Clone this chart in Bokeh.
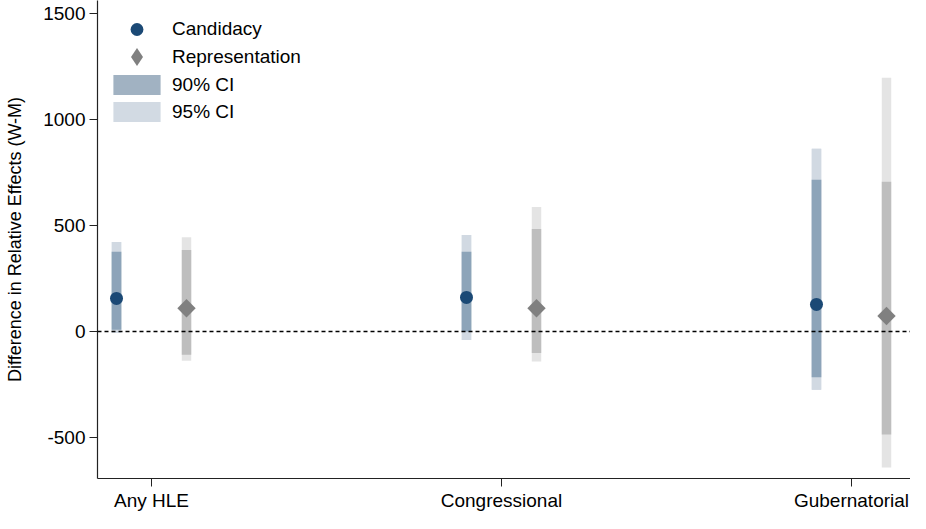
import numpy as np
from bokeh.plotting import figure
from bokeh.models import Span, FixedTicker, Legend, LegendItem, Range1d
from bokeh.embed import file_html
from bokeh.resources import INLINE

# ---- data ----
categories = ["Any HLE", "Congressional", "Gubernatorial"]
y_ticks = [-500, 0, 500, 1000, 1500]

cand_est = [156, 161, 128]
cand_lo90 = [9, 0, -216]
cand_hi90 = [376, 376, 716]
cand_lo95 = [-6, -40, -274]
cand_hi95 = [422, 455, 862]

rep_est = [110, 110, 73]
rep_lo90 = [-110, -101, -485]
rep_hi90 = [385, 483, 706]
rep_lo95 = [-138, -141, -641]
rep_hi95 = [445, 587, 1197]

# ---- layout ----
x_pos = np.arange(1, len(categories) + 1)
offset = 0.1
cand_x = x_pos - offset
rep_x = x_pos + offset
bar_w = 0.027
FONT = "Liberation Sans"
FB = 477  # expected frame bottom (px)

p = figure(width=910, height=513, output_backend="svg", toolbar_location=None,
           x_range=Range1d(0.8457, 3.1686), y_range=Range1d(-693, 1561),
           min_border_left=97, min_border_right=0, min_border_top=0,
           min_border_bottom=28)
p.outline_line_color = None
p.xgrid.visible = False
p.ygrid.visible = False

# legend-key copies (drawn first, hidden under the real bars)
k95 = p.vbar(x=cand_x, bottom=cand_lo95, top=cand_hi95, width=bar_w,
             fill_color="#d2dae3", line_color=None)
k90 = p.vbar(x=cand_x, bottom=cand_lo90, top=cand_hi90, width=bar_w,
             fill_color="#a1b2c2", line_color=None)

c95 = p.vbar(x=cand_x, bottom=cand_lo95, top=cand_hi95, width=bar_w,
             fill_color="#d1d9e2", line_color=None)
r95 = p.vbar(x=rep_x, bottom=rep_lo95, top=rep_hi95, width=bar_w,
             fill_color="#e4e4e4", line_color=None)
c90 = p.vbar(x=cand_x, bottom=cand_lo90, top=cand_hi90, width=bar_w,
             fill_color="#8da4b9", line_color=None)
r90 = p.vbar(x=rep_x, bottom=rep_lo90, top=rep_hi90, width=bar_w,
             fill_color="#bebebe", line_color=None)

p.add_layout(Span(location=0, dimension="width", line_color="black",
                  line_width=1.4, line_dash="4 3"))

c_pt = p.scatter(cand_x, cand_est, marker="circle", size=13,
                 fill_color="#1b4975", line_color=None)
# diamond legend key (legend keys ignore marker angle); hidden under squares
r_key = p.scatter(rep_x, rep_est, marker="diamond", size=12,
                  fill_color="#808080", line_color=None)
r_pt = p.scatter(rep_x, rep_est, marker="square", angle=np.pi / 4, size=13,
                 fill_color="#808080", line_color=None)


def make_legend(label, rend, loc, gw, gh, standoff):
    return Legend(items=[LegendItem(label=label, renderers=[rend])],
                  location=loc, glyph_width=gw, glyph_height=gh, spacing=0,
                  padding=0, margin=0, label_standoff=standoff,
                  border_line_color=None, background_fill_alpha=0,
                  label_text_font=FONT, label_text_font_size="19px",
                  label_height=20, label_text_color="black")


p.add_layout(make_legend("Candidacy", c_pt, (16, FB - 12 - 32), 47, 32, 12))
p.add_layout(make_legend("Representation", r_key, (16, FB - 33 - 45), 47, 45, 12))
p.add_layout(make_legend("90% CI", k90, (10, FB - 71 - 25), 59, 25, 6))
p.add_layout(make_legend("95% CI", k95, (10, FB - 98 - 25), 59, 25, 6))

# axes
p.xaxis.ticker = FixedTicker(ticks=[int(v) for v in x_pos])
p.xaxis.major_label_overrides = {int(v): c for v, c in zip(x_pos, categories)}
p.yaxis.ticker = FixedTicker(ticks=y_ticks)
p.yaxis.major_label_overrides = {t: str(t) for t in y_ticks}
p.yaxis.axis_label = "Difference in Relative Effects (W-M)"
for ax in (p.xaxis, p.yaxis):
    ax.axis_line_color = "#222222"
    ax.axis_line_width = 1.2
    ax.major_tick_line_color = "#222222"
    ax.major_tick_out = 8
    ax.major_tick_in = 0
    ax.minor_tick_line_color = None
    ax.major_label_text_font = FONT
    ax.major_label_text_font_size = "19px"
    ax.major_label_text_color = "black"
p.xaxis.major_label_standoff = 3
p.yaxis.major_label_standoff = 4
p.yaxis.axis_label_text_font = FONT
p.yaxis.axis_label_text_font_size = "18px"
p.yaxis.axis_label_text_font_style = "normal"
p.yaxis.axis_label_text_color = "black"
p.yaxis.axis_label_standoff = 15

open("out.html", "w").write(file_html(p, INLINE))
